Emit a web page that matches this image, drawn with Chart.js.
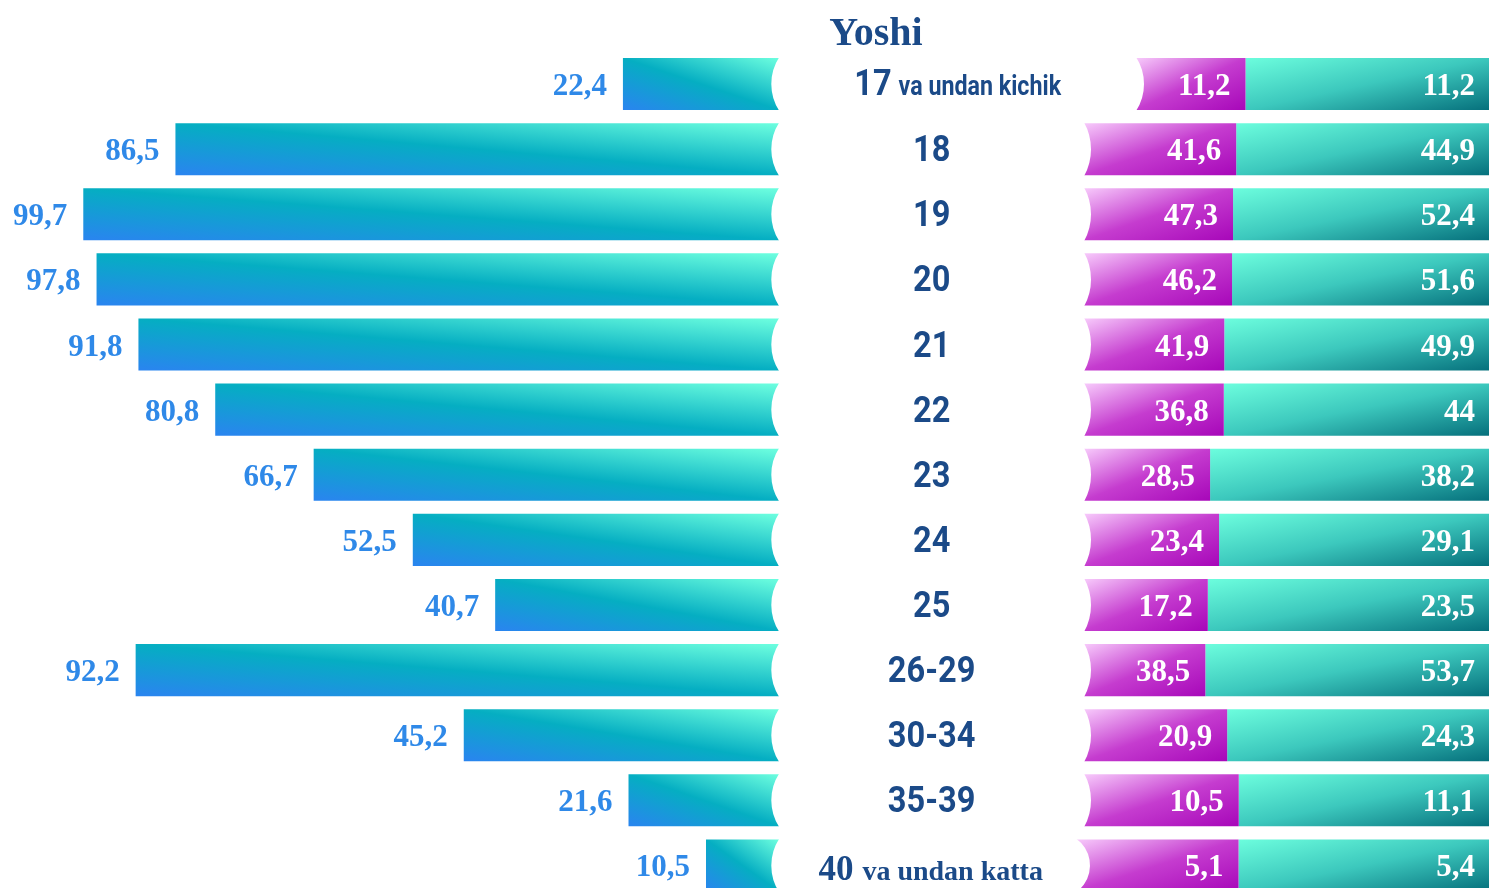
<!DOCTYPE html>
<html>
<head>
<meta charset="utf-8">
<title>Yoshi</title>
<script src="https://cdn.jsdelivr.net/npm/chart.js@4.4.1/dist/chart.umd.min.js"></script>
<style>
  html, body { margin: 0; padding: 0; background: #fff; overflow: hidden; }
  #wrap { position: relative; width: 1489px; height: 898px; }
</style>
</head>
<body>
<div id="wrap"><canvas id="ageChart"></canvas></div>
<script>
const chartTitle = 'Yoshi';
const ageGroups = ['17 va undan kichik', '18', '19', '20', '21', '22', '23', '24', '25', '26-29', '30-34', '35-39', '40 va undan katta'];
const totalValues = [22.4, 86.5, 99.7, 97.8, 91.8, 80.8, 66.7, 52.5, 40.7, 92.2, 45.2, 21.6, 10.5];
const maleValues = [11.2, 41.6, 47.3, 46.2, 41.9, 36.8, 28.5, 23.4, 17.2, 38.5, 20.9, 10.5, 5.1];
const femaleValues = [11.2, 44.9, 52.4, 51.6, 49.9, 44, 38.2, 29.1, 23.5, 53.7, 24.3, 11.1, 5.4];

// right side bars are shares of each row's total (100% bars)
const maleShare = maleValues.map((v, i) => v / totalValues[i] * 100);
const femaleShare = femaleValues.map((v, i) => v / totalValues[i] * 100);

const navy = '#1b4a88';
const labelBlue = '#2f89e8';
const leftStops = [[0, '#2a84f0'], [0.5, '#05aec2'], [1, '#6dffdf']];
const magentaStops = [[0, '#f7cafb'], [0.5, '#c53ccf'], [1, '#a707b9']];
const tealStops = [[0, '#6cfddd'], [0.5, '#3cc8bd'], [1, '#06707c']];

const fmt = v => String(v).replace('.', ',');

function rowBand(chart, i) {
  const y = chart.scales.y;
  const pitch = y.getPixelForValue(1) - y.getPixelForValue(0);
  const mid = y.getPixelForValue(i);
  return { top: mid - pitch * 0.4, bottom: mid + pitch * 0.4, mid };
}

// white rounded label plate in the middle of every row
function pillFor(chart, i) {
  const left = chart.scales.xl.getPixelForValue(0);
  if (i === 0) return { left, right: 1136, bulgeL: 8, bulgeR: 8 };
  if (i === ageGroups.length - 1) return { left, right: 1076, bulgeL: 8, bulgeR: 14 };
  return { left, right: 1084, bulgeL: 8, bulgeR: 7 };
}

// diagonal gradient stretched over a box (isolines run along the other diagonal)
function diagGradient(ctx, left, top, right, bottom, fromBottom, stops) {
  const w = Math.max(right - left, 1), h = bottom - top;
  const k = 2 * w * h / (w * w + h * h);
  const g = fromBottom
    ? ctx.createLinearGradient(left, bottom, left + h * k, bottom - w * k)
    : ctx.createLinearGradient(left, top, left + h * k, top + w * k);
  stops.forEach(([t, c]) => g.addColorStop(t, c));
  return g;
}

function leftFill(c) {
  if (c.type !== 'data' || !c.chart.chartArea) return '#05aec2';
  const { chart, dataIndex: i } = c;
  const x = chart.scales.xl;
  const b = rowBand(chart, i);
  return diagGradient(chart.ctx, x.getPixelForValue(totalValues[i]), b.top, x.getPixelForValue(0), b.bottom, true, leftStops);
}

function magentaFill(c) {
  if (c.type !== 'data' || !c.chart.chartArea) return '#c53ccf';
  const { chart, dataIndex: i } = c;
  const x = chart.scales.xr;
  const b = rowBand(chart, i);
  const start = Math.max(x.getPixelForValue(0), pillFor(chart, i).right);
  return diagGradient(chart.ctx, start, b.top, x.getPixelForValue(maleShare[i]), b.bottom, false, magentaStops);
}

function tealFill(c) {
  if (c.type !== 'data' || !c.chart.chartArea) return '#3cc8bd';
  const { chart, dataIndex: i } = c;
  const x = chart.scales.xr;
  const b = rowBand(chart, i);
  return diagGradient(chart.ctx, x.getPixelForValue(maleShare[i]), b.top, x.getPixelForValue(100), b.bottom, false, tealStops);
}

function drawPill(ctx, p, top, bottom) {
  const yc = (top + bottom) / 2, c = (bottom - top) / 2;
  const rL = (c * c + p.bulgeL * p.bulgeL) / (2 * p.bulgeL);
  const rR = (c * c + p.bulgeR * p.bulgeR) / (2 * p.bulgeR);
  const tL = Math.asin(c / rL), tR = Math.asin(c / rR);
  ctx.beginPath();
  ctx.moveTo(p.left, top);
  ctx.lineTo(p.right, top);
  ctx.arc(p.right + p.bulgeR - rR, yc, rR, -tR, tR);
  ctx.lineTo(p.left, bottom);
  ctx.arc(p.left - p.bulgeL + rL, yc, rL, Math.PI - tL, Math.PI + tL);
  ctx.closePath();
  ctx.fillStyle = '#fff';
  ctx.fill();
}

function squeezedText(ctx, text, x, y, sq) {
  ctx.save();
  ctx.translate(x, y);
  ctx.scale(sq, 1);
  ctx.fillText(text, 0, 0);
  ctx.restore();
}

function labelStyle(i) {
  if (i === 0) return { head: 'bold 37px Roboto', headSq: 0.88, tail: 'bold 28px Roboto', tailSq: 0.83, gap: 7, dy: 11 };
  if (i === ageGroups.length - 1) return { head: 'bold 35px "Liberation Serif"', headSq: 1, tail: 'bold 28px "Liberation Serif"', tailSq: 1, gap: 9, dy: 15 };
  return { head: 'bold 37px Roboto', headSq: 0.88, dy: 12 };
}

function drawAgeLabel(ctx, label, i, cx, mid) {
  const st = labelStyle(i);
  const parts = label.split(' ');
  const head = parts[0], tail = parts.slice(1).join(' ');
  ctx.fillStyle = navy;
  ctx.textAlign = 'left';
  ctx.textBaseline = 'alphabetic';
  ctx.font = st.head;
  const hw = ctx.measureText(head).width * st.headSq;
  let tw = 0;
  if (tail) {
    ctx.font = st.tail;
    tw = ctx.measureText(tail).width * st.tailSq + st.gap;
  }
  const x0 = cx - (hw + tw) / 2;
  ctx.font = st.head;
  squeezedText(ctx, head, x0, mid + st.dy, st.headSq);
  if (tail) {
    ctx.font = st.tail;
    squeezedText(ctx, tail, x0 + hw + st.gap, mid + st.dy, st.tailSq);
  }
}

const overlay = {
  id: 'overlay',
  afterDatasetsDraw(chart) {
    const { ctx } = chart;
    const totalMeta = chart.getDatasetMeta(0);
    const maleMeta = chart.getDatasetMeta(1);
    const femaleMeta = chart.getDatasetMeta(2);
    ctx.save();

    ctx.fillStyle = navy;
    ctx.font = 'bold 40px "Liberation Serif"';
    ctx.textAlign = 'center';
    ctx.textBaseline = 'alphabetic';
    ctx.fillText(chartTitle, 876, 45);

    ageGroups.forEach((label, i) => {
      const b = rowBand(chart, i);
      const p = pillFor(chart, i);
      drawPill(ctx, p, b.top - 1, b.bottom + 1);
      drawAgeLabel(ctx, label, i, (p.left + p.right) / 2 + (i === ageGroups.length - 1 ? 3 : 0), b.mid);

      ctx.font = 'bold 31px "Liberation Serif"';
      ctx.textAlign = 'right';
      ctx.fillStyle = labelBlue;
      ctx.fillText(fmt(totalValues[i]), totalMeta.data[i].x - 16, b.mid + 11);
      ctx.fillStyle = '#fff';
      ctx.fillText(fmt(maleValues[i]), maleMeta.data[i].x - 15, b.mid + 11);
      ctx.fillText(fmt(femaleValues[i]), femaleMeta.data[i].x - 14, b.mid + 11);
    });
    ctx.restore();
  }
};

new Chart(document.getElementById('ageChart'), {
  type: 'bar',
  data: {
    labels: ageGroups,
    datasets: [
      { label: 'Jami', data: totalValues, xAxisID: 'xl', stack: 'row', backgroundColor: leftFill },
      { label: 'Erkaklar', data: maleShare, xAxisID: 'xr', stack: 'row', backgroundColor: magentaFill },
      { label: 'Ayollar', data: femaleShare, xAxisID: 'xr', stack: 'row', backgroundColor: tealFill }
    ]
  },
  options: {
    indexAxis: 'y',
    responsive: true,
    maintainAspectRatio: false,
    animation: false,
    events: [],
    layout: { padding: { top: 51.5, left: 0, right: 0, bottom: 0 } },
    datasets: { bar: { barPercentage: 0.8, categoryPercentage: 1, borderWidth: 0 } },
    scales: {
      y: { type: 'category', display: false, stacked: true },
      xl: { type: 'linear', axis: 'x', display: false, reverse: true, min: -101.66, max: 111.63 },
      xr: { type: 'linear', axis: 'x', display: false, stacked: true, min: -205.75, max: 100 }
    },
    plugins: { legend: { display: false }, tooltip: { enabled: false } }
  },
  plugins: [overlay]
});
</script>
</body>
</html>
